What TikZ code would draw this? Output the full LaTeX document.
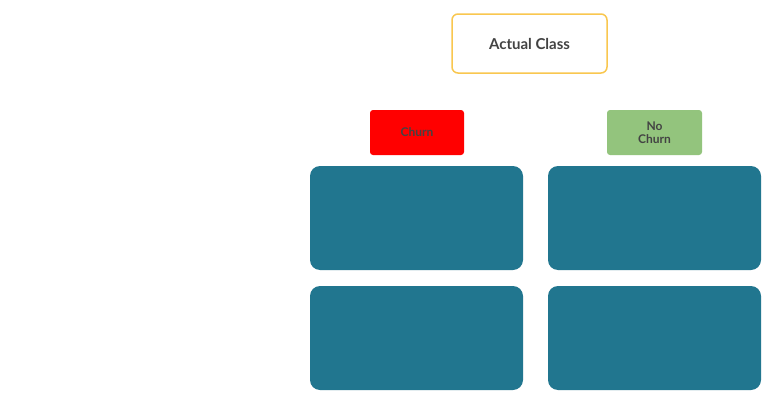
\documentclass[tikz,border=0pt]{standalone}
\usepackage{fontspec}
\setmainfont{Lato}
\definecolor{teal1}{HTML}{21768F}
\definecolor{txt}{HTML}{434343}
\definecolor{yel}{HTML}{F9C74F}
\definecolor{grn}{HTML}{93C47D}
\begin{document}
\begin{tikzpicture}[x=1pt,y=-1pt,
  cell/.style={fill=teal1,draw=none,rounded corners=10pt},
  lab/.style={rounded corners=3pt,draw=none,text=txt,font=\bfseries\fontsize{12}{13}\selectfont,align=center}]
\useasboundingbox[fill=white] (0,0) rectangle (780,415);
\node[draw=yel,line width=1.5pt,rounded corners=6pt,minimum width=155pt,minimum height=59pt,text=txt,font=\bfseries\fontsize{15}{18}\selectfont] (ac) at (529.5,43.5) {Actual Class};
\node[lab,fill=red,minimum width=94pt,minimum height=45pt] (churn) at (417,132.5) {Churn};
\node[lab,fill=grn,minimum width=95pt,minimum height=45pt] (nochurn) at (654.5,132.5) {No\\Churn};
\path[cell] (310,166) rectangle (523,270) coordinate (c1);
\path[cell] (548,166) rectangle (761,270) coordinate (c2);
\path[cell] (310,286) rectangle (523,390) coordinate (c3);
\path[cell] (548,286) rectangle (761,390) coordinate (c4);
\end{tikzpicture}
\end{document}
